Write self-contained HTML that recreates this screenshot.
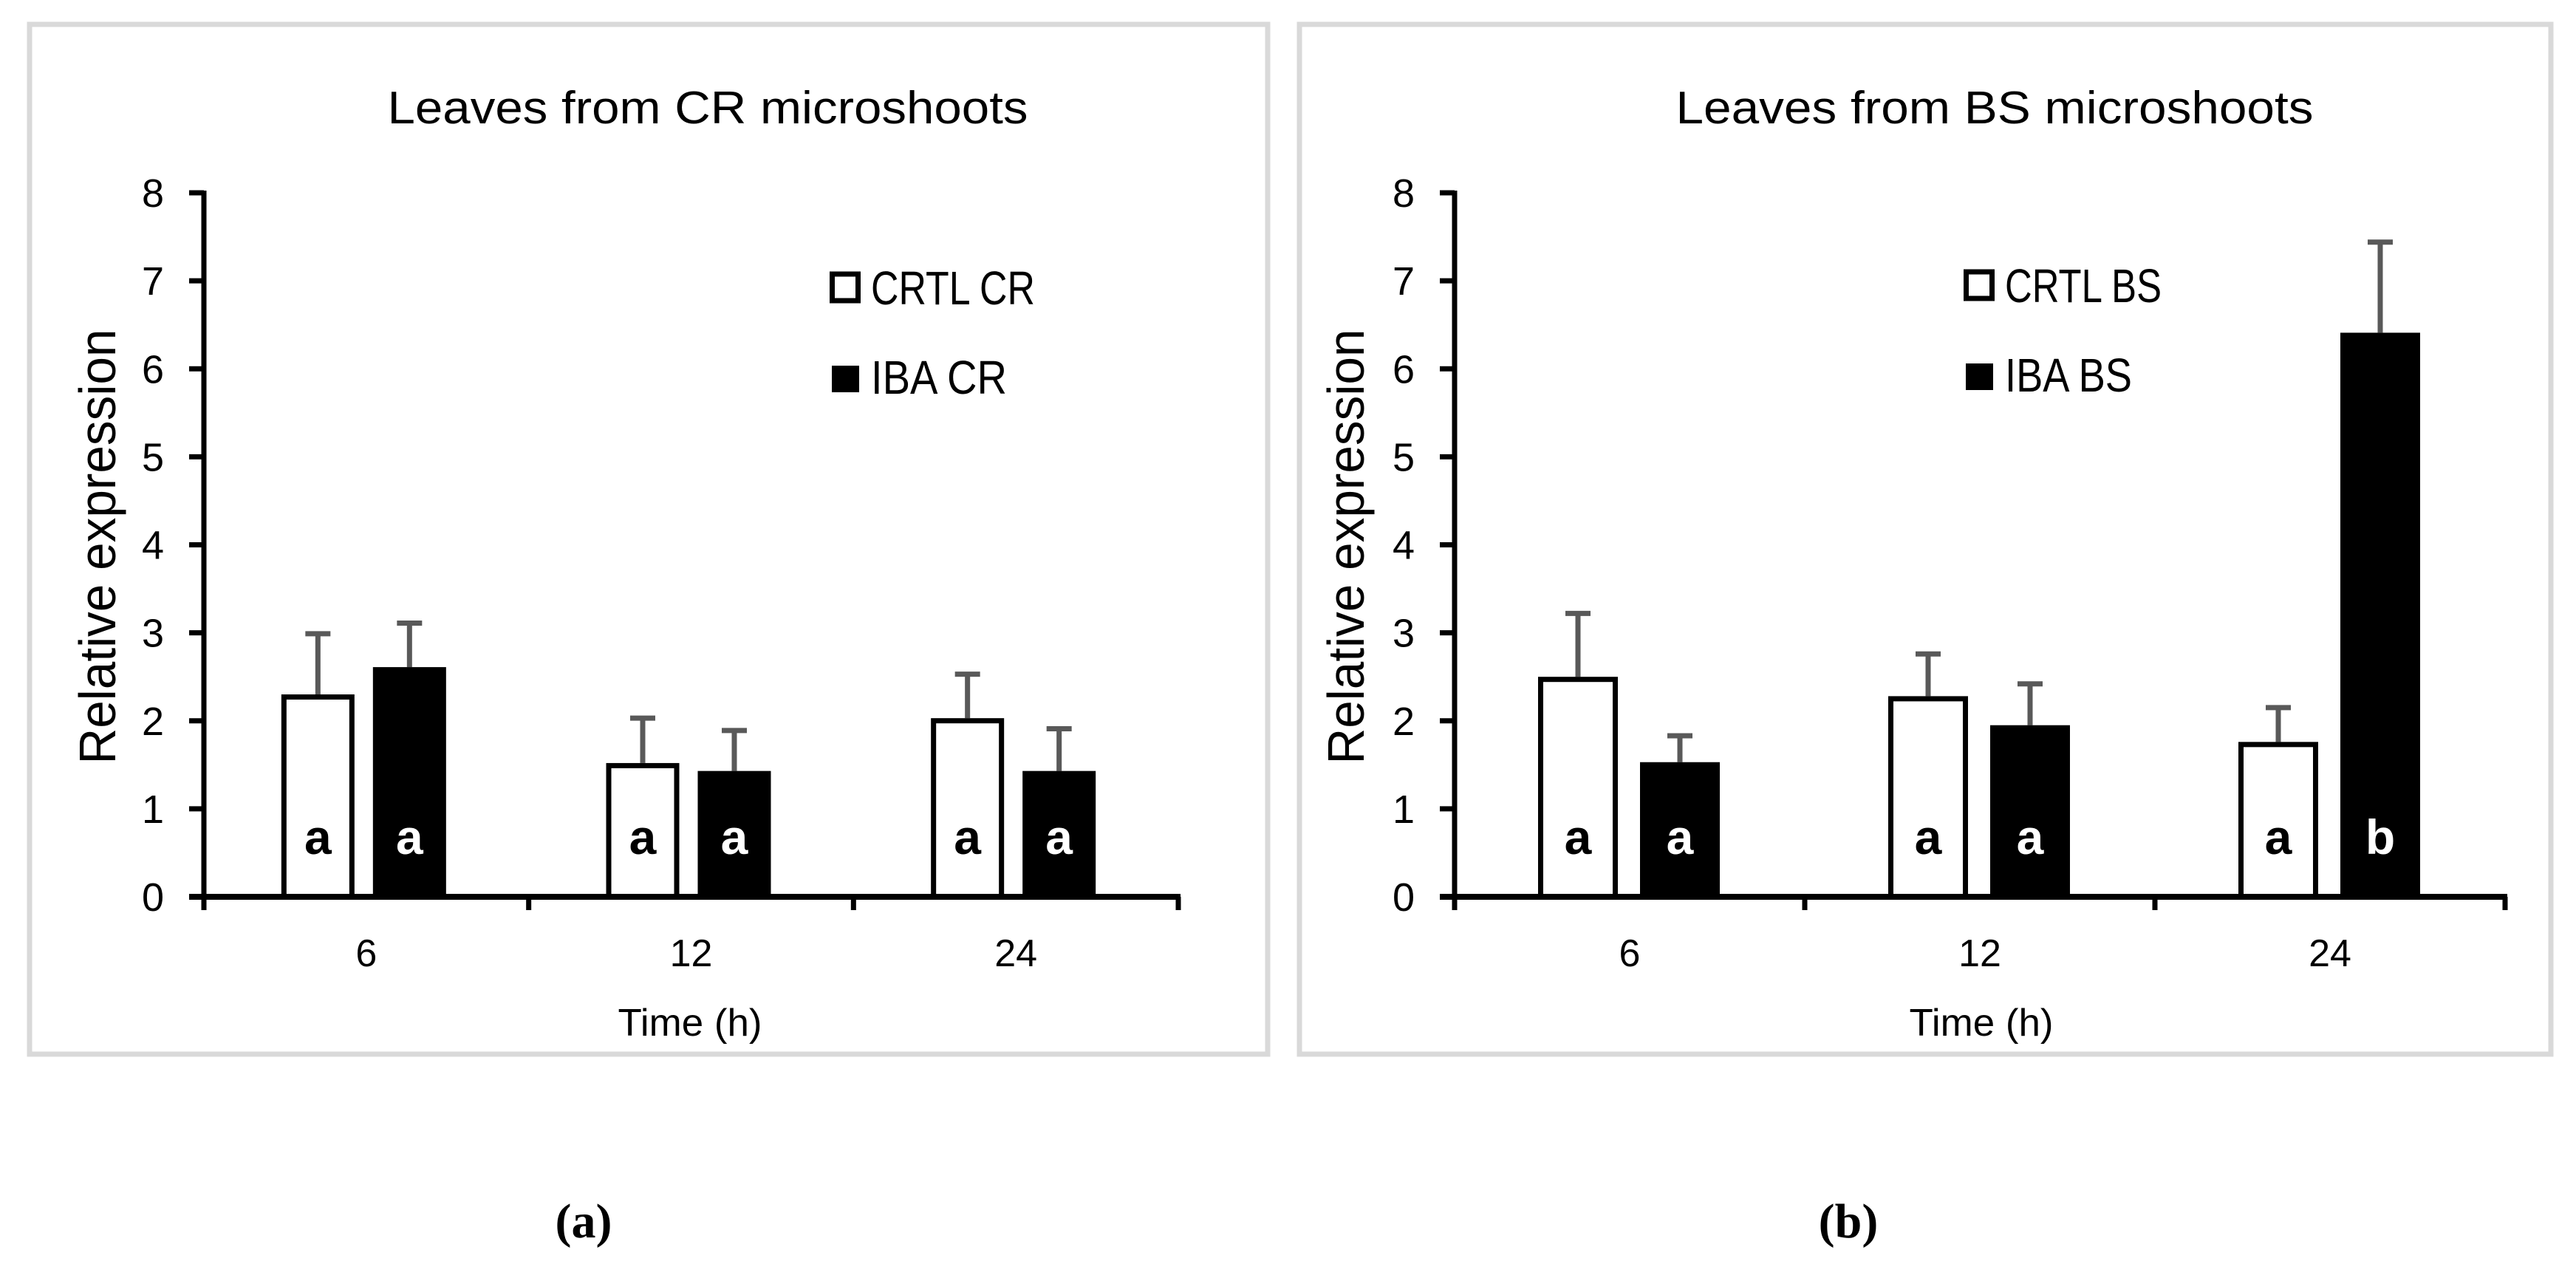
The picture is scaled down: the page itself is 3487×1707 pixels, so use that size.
<!DOCTYPE html>
<html><head><meta charset="utf-8"><title>Relative expression charts</title>
<style>
html,body{margin:0;padding:0;background:#fff;}
svg{display:block;font-family:"Liberation Sans",sans-serif;}
</style></head>
<body>
<svg id="fig" width="3487" height="1707" viewBox="0 0 3487 1707" xmlns="http://www.w3.org/2000/svg">
  <rect x="0" y="0" width="3487" height="1707" fill="#fff"/>
  <rect x="40" y="33" width="1676" height="1394" fill="#fff" stroke="#d9d9d9" stroke-width="7"/>
  <rect x="1759" y="33" width="1694" height="1394" fill="#fff" stroke="#d9d9d9" stroke-width="7"/>
  <g id="panelA"></g>
  <g id="panelB"></g>
  <text x="790" y="1675" font-family="Liberation Serif, serif" font-weight="bold" font-size="66" text-anchor="middle">(a)</text>
  <text x="2502" y="1675" font-family="Liberation Serif, serif" font-weight="bold" font-size="66" text-anchor="middle">(b)</text>
</svg>
<script>
const categories = ["6", "12", "24"];
const yTicks = [0, 1, 2, 3, 4, 5, 6, 7, 8];
const crtlCR = [2.30, 1.52, 2.03];
const crtlCRErr = [0.69, 0.51, 0.50];
const ibaCR = [2.61, 1.43, 1.43];
const ibaCRErr = [0.50, 0.46, 0.48];
const lettersCRTL_CR = ["a", "a", "a"];
const lettersIBA_CR = ["a", "a", "a"];
const crtlBS = [2.50, 2.28, 1.76];
const crtlBSErr = [0.72, 0.48, 0.39];
const ibaBS = [1.53, 1.95, 6.41];
const ibaBSErr = [0.30, 0.47, 1.03];
const lettersCRTL_BS = ["a", "a", "a"];
const lettersIBA_BS = ["a", "a", "b"];

const NS = "http://www.w3.org/2000/svg";
function mk(parent, tag, attrs, txt) {
  const e = document.createElementNS(NS, tag);
  for (const k in attrs) e.setAttribute(k, attrs[k]);
  if (txt !== undefined) e.textContent = txt;
  parent.appendChild(e);
  return e;
}

function drawPanel(g, cfg) {
  const y0 = 1214, y8 = 261;
  const yScale = v => y0 - (v / 8) * (y0 - y8);
  const catW = (cfg.x1 - cfg.x0) / categories.length;
  const xCenter = i => cfg.x0 + catW * (i + 0.5);

  let t = mk(g, "text", {x: cfg.titleX, y: 167, "font-size": 62, "text-anchor": "middle", textLength: cfg.titleW, lengthAdjust: "spacingAndGlyphs"}, cfg.title);
  
  

  t = mk(g, "text", {x: 0, y: 0, "font-size": 70, "text-anchor": "middle", textLength: 589, lengthAdjust: "spacingAndGlyphs", transform: `translate(${cfg.yTitleX},740) rotate(-90)`}, "Relative expression");
  
  

  yTicks.forEach(v => {
    const y = yScale(v);
    const tk = mk(g, "line", {x1: cfg.x0 - 20, x2: cfg.x0, y1: y, y2: y, stroke: "#000", "stroke-width": 7});
    
    
    const lb = mk(g, "text", {x: cfg.x0 - 54, y: y + 19, "font-size": 54, "text-anchor": "end"}, String(v));
    
    
  });

  categories.forEach((c, i) => {
    const cx = xCenter(i);
    const vals = [[cfg.crtl, cfg.crtlErr, cfg.lc, false], [cfg.iba, cfg.ibaErr, cfg.li, true]];
    vals.forEach(([arr, err, let_, filled], s) => {
      const bx = s === 0 ? cx + cfg.offC : cx + cfg.offI;
      const bw = cfg.bw;
      const mid = bx + bw / 2;
      const top = yScale(arr[i]);
      const et = yScale(arr[i] + err[i]);
      const el = mk(g, "line", {x1: mid, x2: mid, y1: top, y2: et, stroke: "#595959", "stroke-width": 7});
      
      
      const ec = mk(g, "line", {x1: mid - 17, x2: mid + 17, y1: et, y2: et, stroke: "#595959", "stroke-width": 7});
      
      
      let r;
      if (filled) {
        r = mk(g, "rect", {x: bx, y: top, width: bw, height: y0 - top, fill: "#000"});
      } else {
        r = mk(g, "rect", {x: bx + 3.5, y: top + 3.5, width: bw - 7, height: y0 - top - 3.5, fill: "#fff", stroke: "#000", "stroke-width": 7});
      }
      
      
      const lt = mk(g, "text", {x: mid, y: 1156, "font-size": 66, "font-weight": "bold", "text-anchor": "middle", fill: filled ? "#fff" : "#000"}, let_[i]);
      
      
    });
    const xl = mk(g, "text", {x: cx, y: 1308, "font-size": 52, "text-anchor": "middle"}, c);
    
    
  });

  for (let i = 0; i <= categories.length; i++) {
    const x = cfg.x0 + catW * i;
    const tk = mk(g, "line", {x1: x, x2: x, y1: y0, y2: y0 + 18, stroke: "#000", "stroke-width": 7});
    
    
  }
  const ya = mk(g, "line", {x1: cfg.x0, x2: cfg.x0, y1: y8 - 3, y2: y0 + 4, stroke: "#000", "stroke-width": 7});
  
  
  const xa = mk(g, "line", {x1: cfg.x0 - 20, x2: cfg.x1 + 3, y1: y0, y2: y0, stroke: "#000", "stroke-width": 8});
  
  

  t = mk(g, "text", {x: cfg.timeX, y: 1402, "font-size": 52, "text-anchor": "middle", textLength: 195, lengthAdjust: "spacingAndGlyphs"}, "Time (h)");
  
  

  const lg1 = mk(g, "rect", {x: cfg.legX + 3.5, y: cfg.legY - 18, width: 35, height: 36, fill: "#fff", stroke: "#000", "stroke-width": 7});
  
  
  const lt1 = mk(g, "text", {x: cfg.legX + 56, y: cfg.legY + 23, "font-size": 64, textLength: cfg.leg1W, lengthAdjust: "spacingAndGlyphs"}, cfg.leg1);
  
  
  const lg2 = mk(g, "rect", {x: cfg.legX + 3, y: cfg.legY + 106, width: 37, height: 36, fill: "#000"});
  
  
  const lt2 = mk(g, "text", {x: cfg.legX + 56, y: cfg.legY + 144, "font-size": 64, textLength: cfg.leg2W, lengthAdjust: "spacingAndGlyphs"}, cfg.leg2);
  
  
}

drawPanel(document.getElementById("panelA"), {
  x0: 276, x1: 1595, title: "Leaves from CR microshoots", titleX: 958, titleW: 867,
  yTitleX: 156, timeX: 934, crtl: crtlCR, crtlErr: crtlCRErr, iba: ibaCR, ibaErr: ibaCRErr,
  lc: lettersCRTL_CR, li: lettersIBA_CR, offC: -115, offI: 9, bw: 99,
  legX: 1123, legY: 389, leg1: "CRTL CR", leg1W: 222, leg2: "IBA CR", leg2W: 184
});
drawPanel(document.getElementById("panelB"), {
  x0: 1969, x1: 3391, title: "Leaves from BS microshoots", titleX: 2700, titleW: 863,
  yTitleX: 1846, timeX: 2682, crtl: crtlBS, crtlErr: crtlBSErr, iba: ibaBS, ibaErr: ibaBSErr,
  lc: lettersCRTL_BS, li: lettersIBA_BS, offC: -124, offI: 14, bw: 108,
  legX: 2658, legY: 386, leg1: "CRTL BS", leg1W: 212, leg2: "IBA BS", leg2W: 172
});
</script>
</body></html>
